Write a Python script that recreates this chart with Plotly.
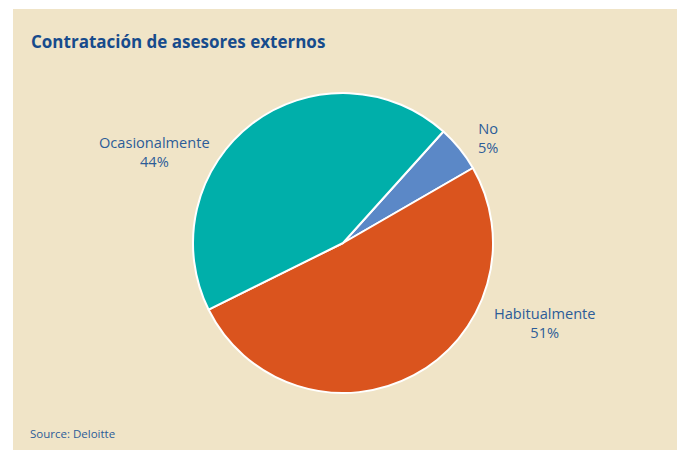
import plotly.graph_objects as go

labels = ["No", "Habitualmente", "Ocasionalmente"]
values = [5, 51, 44]
colors = ["#5B88C7", "#DA541E", "#00AFAA"]

# la página html añade 8px de margen, así que la figura es algo menor
OFF = 8
W, H = 685 - OFF, 450 - OFF


def px(x, y):
    return (x - OFF) / W, 1 - (y - OFF) / H


fig = go.Figure()
x0, y1 = px(193, 93)
x1, y0 = px(493, 393)
fig.add_trace(go.Pie(
    labels=labels,
    values=values,
    sort=False,
    direction="clockwise",
    rotation=42,
    marker=dict(colors=colors, line=dict(color="white", width=2)),
    textinfo="none",
    hoverinfo="label+percent",
    showlegend=False,
    domain=dict(x=[x0, x1], y=[y0, y1]),
))

# posiciones de las etiquetas (px)
label_pos = {"No": (488, 137), "Habitualmente": (544, 322), "Ocasionalmente": (154, 152)}
for lab, val in zip(labels, values):
    x, y = px(*label_pos[lab])
    fig.add_annotation(
        x=x, y=y, xref="paper", yref="paper", xanchor="center", yanchor="middle",
        text=f"{lab}<br>{val}%", showarrow=False,
        font=dict(family="Open Sans", size=14.6, color="#2C5C98"),
        align="center",
    )

tx, ty = px(29, 42)
fig.add_annotation(
    x=tx, y=ty, xref="paper", yref="paper", xanchor="left", yanchor="middle",
    text="<b>Contratación de asesores externos</b>", showarrow=False,
    font=dict(family="Open Sans", size=17, color="#174B8C"),
)
sx, sy = px(28, 433)
fig.add_annotation(
    x=sx, y=sy, xref="paper", yref="paper", xanchor="left", yanchor="middle",
    text="Source: Deloitte", showarrow=False,
    font=dict(family="Open Sans", size=11.5, color="#2C5C98"),
)

rx0, ry1 = px(13, 9)
rx1, _ = px(678, 450)
fig.add_shape(
    type="rect", xref="paper", yref="paper",
    x0=rx0, x1=rx1, y0=0, y1=ry1,
    fillcolor="#F0E4C7", line=dict(width=0), layer="below",
)

fig.update_layout(
    width=W, height=H,
    margin=dict(l=0, r=0, t=0, b=0),
    paper_bgcolor="white",
    plot_bgcolor="white",
)

fig.write_html("out.html")
